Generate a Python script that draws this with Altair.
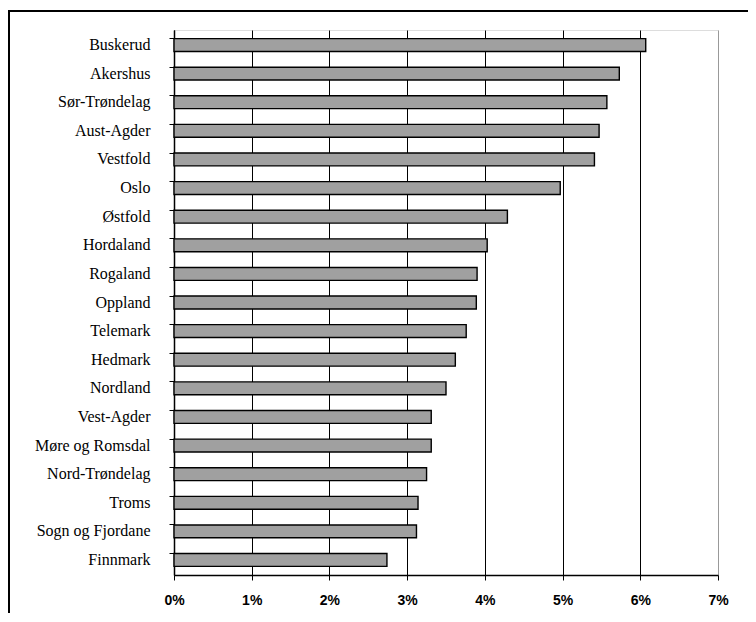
import altair as alt
import pandas as pd

counties = ["Buskerud", "Akershus", "Sør-Trøndelag", "Aust-Agder", "Vestfold", "Oslo",
            "Østfold", "Hordaland", "Rogaland", "Oppland", "Telemark", "Hedmark",
            "Nordland", "Vest-Agder", "Møre og Romsdal", "Nord-Trøndelag", "Troms",
            "Sogn og Fjordane", "Finnmark"]
shares = [0.0607, 0.0573, 0.0557, 0.0547, 0.0541, 0.0497,
          0.0429, 0.0403, 0.0390, 0.0389, 0.0376, 0.0362,
          0.0350, 0.0331, 0.0331, 0.0325, 0.0314,
          0.0312, 0.0274]
x_ticks = [0, 0.01, 0.02, 0.03, 0.04, 0.05, 0.06, 0.07]

df = pd.DataFrame({"county": counties, "share": shares})
one = pd.DataFrame({"k": [0]})

frame_top = alt.Chart(one).mark_rule(stroke="black", strokeWidth=2).encode(
    x=alt.value(-166), x2=alt.value(600), y=alt.value(-19)
)
frame_left = alt.Chart(one).mark_rule(stroke="black", strokeWidth=2).encode(
    x=alt.value(-165), y=alt.value(-20), y2=alt.value(600)
)

bars = alt.Chart(df).mark_bar(
    fill="#a0a0a0", stroke="black", strokeWidth=1.4
).encode(
    x=alt.X("share:Q",
            scale=alt.Scale(domain=[0, 0.07], nice=False),
            axis=alt.Axis(values=x_ticks, format=".0%", title=None,
                          grid=True,
                          gridColor={"condition": {"test": "datum.value >= 0.069", "value": "#999999"},
                                     "value": "black"},
                          gridWidth=1, labelFlush=False,
                          domainColor="black", domainWidth=1.5,
                          tickColor="black", tickSize=5, tickWidth=1,
                          labelFont="Liberation Sans Narrow, Liberation Sans, Arial",
                          labelFontWeight="bold", labelFontSize=14,
                          labelColor="black", labelPadding=13)),
    y=alt.Y("county:N", sort=counties,
            scale=alt.Scale(paddingInner=0.55, paddingOuter=0.3),
            axis=alt.Axis(title=None, bandPosition=0, domainColor="black",
                          domainWidth=1.5, tickColor="black", tickSize=5,
                          tickWidth=1, labelFont="Liberation Serif",
                          labelFontSize=16, labelColor="black",
                          labelPadding=19, labelAlign="right"))
)

chart = alt.layer(bars, frame_top, frame_left).properties(
    width=544, height=545,
    autosize=alt.AutoSizeParams(type="none"),
    padding={"left": 166, "top": 22, "right": 30, "bottom": 38}
).configure_view(
    stroke="#999999", strokeWidth=1.5
).configure(background="white")

chart.save("out.html", embed_options={"renderer": "svg", "actions": False})
